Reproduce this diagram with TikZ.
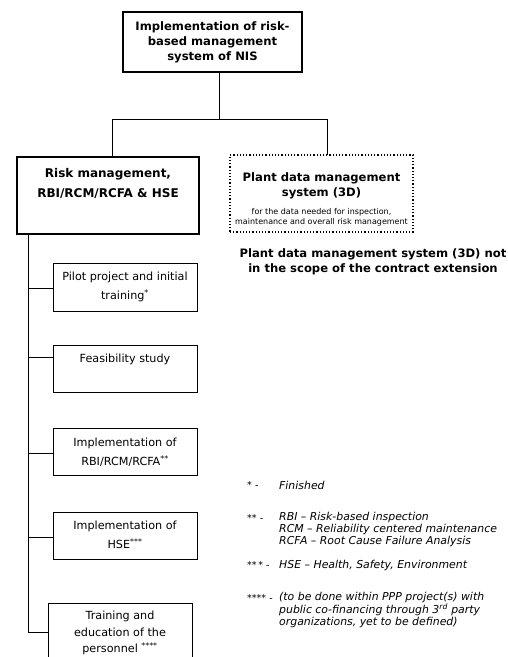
\documentclass[tikz,border=0pt]{standalone}
\usepackage{fontspec}
\setmainfont{DejaVu Sans}
\begin{document}
\begin{tikzpicture}[x=1pt,y=-1pt,
  heavybox/.style={draw, line width=2.4pt, inner sep=0pt},
  thinbox/.style={draw, line width=0.8pt, inner sep=0pt},
  dotbox/.style={draw, dotted, line width=1.2pt, inner sep=0pt},
  link/.style={draw, line width=0.8pt},
  headtxt/.style={align=center, inner sep=0pt, font=\fontsize{11.6}{15}\selectfont\bfseries},
  subtxt/.style={align=center, inner sep=0pt, font=\fontsize{11.2}{19}\selectfont},
  notemark/.style={anchor=west, inner sep=0pt, font=\fontsize{9.5}{11}\selectfont},
  notetxt/.style={anchor=north west, align=left, inner sep=0pt, font=\fontsize{10.9}{12}\selectfont\itshape}]
\useasboundingbox (0,0) rectangle (508,657);
\fill[white] (0,0) rectangle (508,657);
\clip (0,0) rectangle (508,657);

% top level
\node[heavybox, minimum width=179pt, minimum height=60pt] (top) at (212.5,42) {};
\node[headtxt] (toptxt) at (top.center) {Implementation of risk-\\based management\\system of NIS};

% second level
\node[heavybox, minimum width=182pt, minimum height=77pt] (risk) at (108,195.5) {};
\node[headtxt, font=\fontsize{12}{20}\selectfont\bfseries, anchor=north] (risktxt) at (108,168) {Risk management,\\RBI/RCM/RCFA \& HSE};

\node[dotbox, minimum width=183pt, minimum height=77pt] (plant) at (321.5,193.5) {};
\node[headtxt, anchor=north] (planttxt) at (321.5,172) {Plant data management\\system (3D)};
\node[align=center, inner sep=0pt, font=\fontsize{8}{10}\selectfont, anchor=north] (plantsub) at (321.5,208)
  {for the data needed for inspection,\\maintenance and overall risk management};

\node[headtxt, anchor=north] (scope) at (373,248) {Plant data management system (3D) not\\in the scope of the contract extension};

% tree links
\coordinate (fork) at (219,119);
\draw[link] (top.south -| fork) -- (fork);
\draw[link] (112,119) -- (327,119);
\draw[link] (112,119) -- (112,157);
\draw[link] (327,119) -- (327,155);

% work packages
\node[thinbox, minimum width=144pt, minimum height=48pt] (pilot) at (125,287) {};
\node[subtxt] (pilottxt) at (125,287) {Pilot project and initial\\training\textsuperscript{*}};

\node[thinbox, minimum width=144pt, minimum height=47pt] (feas) at (125,368.5) {};
\node[subtxt] (feastxt) at (125,359) {Feasibility study};

\node[thinbox, minimum width=144pt, minimum height=47pt] (rbi) at (125,451.5) {};
\node[subtxt] (rbitxt) at (125,452) {Implementation of\\RBI/RCM/RCFA\textsuperscript{**}};

\node[thinbox, minimum width=144pt, minimum height=47pt] (hse) at (125,535.5) {};
\node[subtxt] (hsetxt) at (125,535) {Implementation of\\HSE\textsuperscript{***}};

\node[thinbox, minimum width=144pt, minimum height=70pt] (train) at (120,638) {};
\node[subtxt, font=\fontsize{11.2}{16.5}\selectfont, anchor=north] (traintxt) at (120,611)
  {Training and\\education of the\\personnel \textsuperscript{****}};

% spine and branches
\coordinate (spinetop) at (28,234);
\coordinate (spinebot) at (28,632);
\draw[link] (spinetop) -- (spinebot) -- (spinebot -| train.west);
\draw[link] (28,288) -- (28,288 -| pilot.west);
\draw[link] (28,357) -- (28,357 -| feas.west);
\draw[link] (28,453) -- (28,453 -| rbi.west);
\draw[link] (28,537) -- (28,537 -| hse.west);

% footnotes
\node[notemark] (m1) at (247,485) {*\,\,-};
\node[notetxt, anchor=west] (n1) at (279,485) {Finished};
\node[notemark] (m2) at (247,518) {**\,\,-};
\node[notetxt] (n2) at (279,512) {RBI – Risk-based inspection\\RCM – Reliability centered maintenance\\RCFA – Root Cause Failure Analysis};
\node[notemark] (m3) at (247,565) {**\,*\,\,-};
\node[notetxt, anchor=west] (n3) at (279,565) {HSE – Health, Safety, Environment};
\node[notemark] (m4) at (247,598) {****\,\,-};
\node[notetxt] (n4) at (279,592) {(to be done within PPP project(s) with\\public co-financing through 3\textsuperscript{rd} party\\organizations, yet to be defined)};
\end{tikzpicture}
\end{document}
